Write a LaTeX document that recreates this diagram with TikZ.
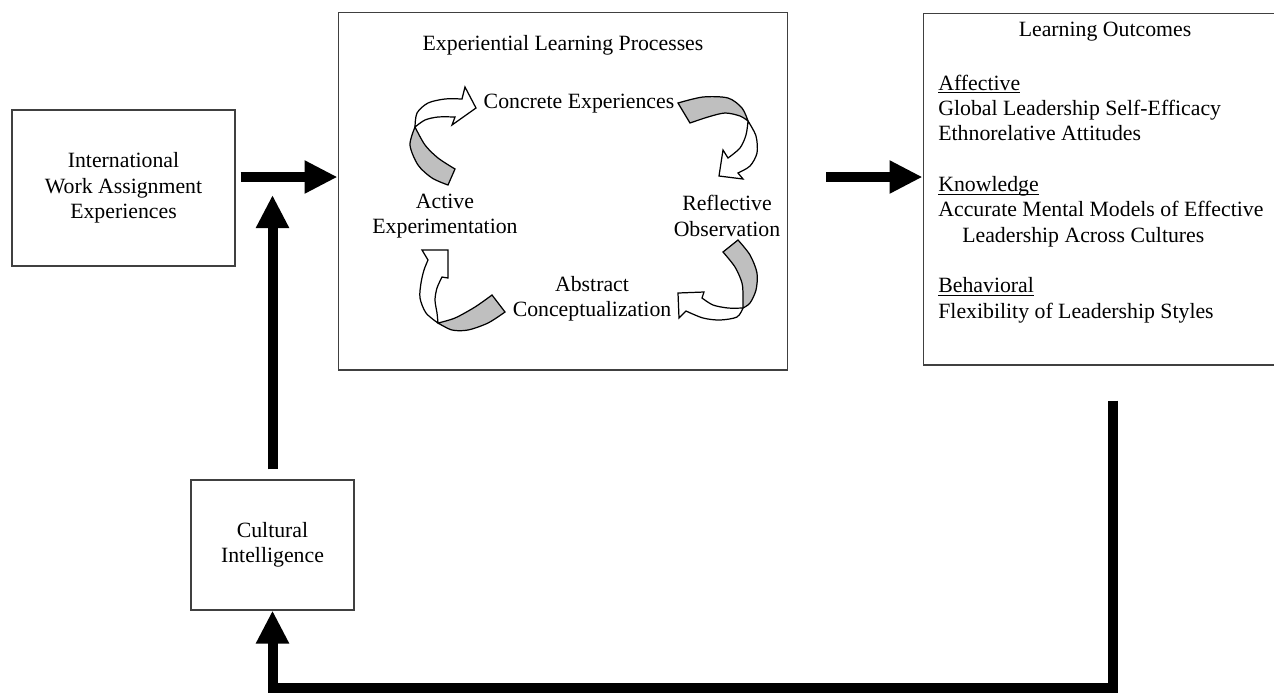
\documentclass[tikz,border=0pt]{standalone}
\usepackage{fontspec}
\setmainfont{Liberation Serif}
\usetikzlibrary{arrows.meta,positioning,calc}
\newcommand{\headline}[1]{\underline{\smash{#1}}}

\begin{document}
\begin{tikzpicture}[x=0.02cm, y=-0.02cm,
    box/.style={draw=black!75, line width=0.6pt, align=center, font=\fontsize{12.4}{14.4}\selectfont},
    lbl/.style={align=center, font=\fontsize{12.4}{14.4}\selectfont},
    bigarrow/.style={line width=0.2cm, -{Triangle[length=0.66cm, width=0.62cm]}, line join=miter},
    ribgray/.style={fill=black!25, draw=black, line width=0.7pt},
    ribwhite/.style={fill=white, draw=black, line width=0.7pt}]
  \useasboundingbox (0,0) rectangle (1274,694);
  \clip (0,0) rectangle (1274,694);

  % boxes
  \node[box, minimum width=4.46cm, minimum height=3.12cm] (iwae) at (123.5,188)
    {International\\Work Assignment\\Experiences};
  \node[box, minimum width=9cm, minimum height=7.16cm] (elp) at (563,191) {};
  \node[box, minimum width=7.34cm, minimum height=7.04cm] (lo) at (1106.5,189) {};
  \node[box, minimum width=3.26cm, minimum height=2.6cm] (ci) at (272.5,545)
    {Cultural\\Intelligence};

  % learning cycle labels
  \node[lbl] (elptitle) at (563,45) {Experiential Learning Processes};
  \node[lbl] (ce) at (579,104) {Concrete Experiences};
  \node[lbl] (ro) at (727,216) {Reflective\\Observation};
  \node[lbl] (ac) at (592,299) {Abstract\\Conceptualization};
  \node[lbl] (ae) at (445,216) {Active\\Experimentation};

  % outcomes
  \node[lbl] (lotitle) at (1105,32) {Learning Outcomes};
  \node[lbl, align=left, anchor=north west, inner sep=0pt] (lolist) at (938,90)
    {\headline{Affective}\\
     Global Leadership Self-Efficacy\\
     Ethnorelative Attitudes\\[14.4pt]
     \headline{Knowledge}\\
     Accurate Mental Models of Effective\\
     \hspace*{1.1em}Leadership Across Cultures\\[14.4pt]
     \headline{Behavioral}\\
     Flexibility of Leadership Styles};

  % curved arrows: active -> concrete
  \filldraw[ribgray] plot[smooth] coordinates {(415,127) (410,145) (418,165) (432,178) (448,185)}
    -- plot[smooth] coordinates {(455,169) (438,158) (425,145) (415,127)} -- cycle;
  \filldraw[ribwhite] plot[smooth] coordinates {(415,127) (417,113) (428,103) (445,99) (462,99)}
    -- (465,87) -- (476,108) -- (452,125)
    -- plot[smooth] coordinates {(455,117) (438,117) (425,120) (415,127)} -- cycle;
  % concrete -> reflective
  \filldraw[ribgray] plot[smooth] coordinates {(678,103) (703,97) (728,98) (742,108) (748,121)}
    -- plot[smooth] coordinates {(748,121) (740,116) (725,113) (708,117) (690,123)} -- cycle;
  \filldraw[ribwhite] plot[smooth] coordinates {(748,121) (756,136) (757,153) (750,166) (738,173)}
    -- (743,179) -- (719,176) -- (723,150)
    -- plot[smooth] coordinates {(728,158) (740,148) (746,135) (748,121)} -- cycle;
  % reflective -> abstract
  \filldraw[ribgray] plot[smooth] coordinates {(738,240) (750,255) (757,273) (756,290) (750,303) (743,308)}
    -- plot[smooth] coordinates {(743,308) (743,297) (742,283) (735,267) (723,252)} -- cycle;
  \filldraw[ribwhite] plot[smooth] coordinates {(743,308) (737,317) (720,320) (703,318) (686,311)}
    -- (679,318) -- (678,293) -- (704,292)
    -- plot[smooth] coordinates {(702,298) (713,305) (728,308) (743,308)} -- cycle;
  % abstract -> active
  \filldraw[ribgray] plot[smooth] coordinates {(492,295) (475,307) (455,318) (438,323)}
    -- plot[smooth] coordinates {(438,323) (452,330) (468,330) (488,323) (505,312)} -- cycle;
  \filldraw[ribwhite] plot[smooth] coordinates {(438,323) (426,313) (420,298) (421,283) (424,270) (428,260)}
    -- (422,250) -- (448,250) -- (448,278)
    -- plot[smooth] coordinates {(442,277) (437,288) (435,300) (437,313) (438,323)} -- cycle;

  % thick connectors
  \coordinate (mainy) at (0,177);
  \coordinate (uptip) at (273,195);
  \coordinate (fb) at (1113,688);
  \draw[bigarrow] ($(iwae.east |- mainy)+(5,0)$) -- (elp.west |- mainy);
  \draw[bigarrow] ($(elp.east |- mainy)+(38,0)$) -- (lo.west |- mainy);
  \draw[bigarrow] ($(ci.north)+(0,-10)$) -- (ci.north |- uptip);
  \draw[bigarrow] ($(lo.south -| fb)+(0,35)$) -- (fb) -- (ci.south |- fb) -- (ci.south);
\end{tikzpicture}
\end{document}
